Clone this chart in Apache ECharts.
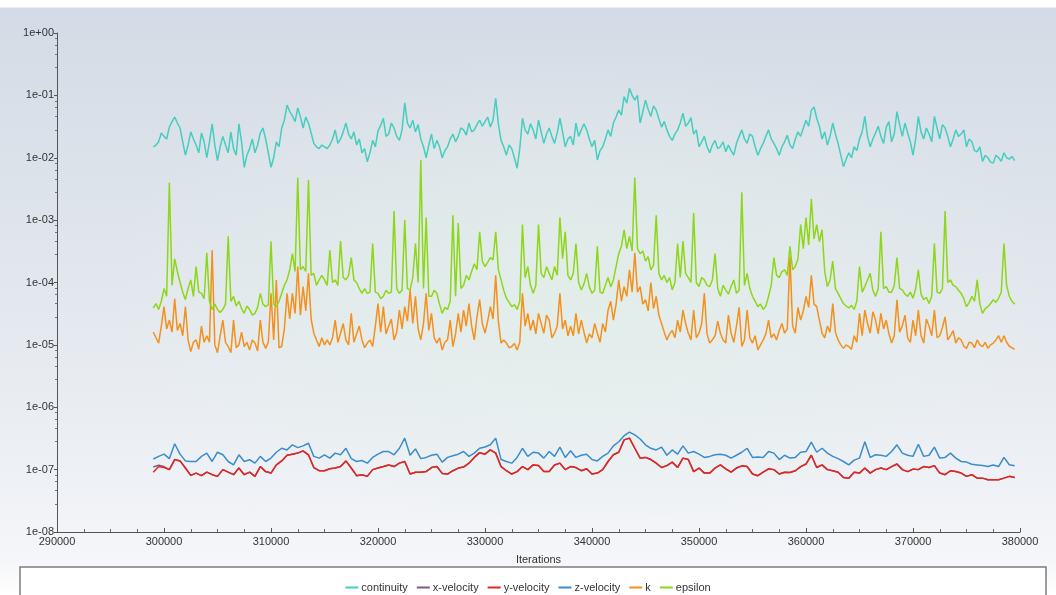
<!DOCTYPE html>
<html>
<head>
<meta charset="utf-8">
<title>Residuals</title>
<script src="https://cdn.jsdelivr.net/npm/echarts@6/dist/echarts.min.js"></script>
<style>
  html, body {
    margin: 0;
    padding: 0;
    width: 1056px;
    height: 595px;
    overflow: hidden;
  }
  body {
    background:
      radial-gradient(ellipse 45% 40% at 55% 48%, rgba(226, 240, 232, 0.7), rgba(226, 240, 232, 0) 100%),
      linear-gradient(to bottom, #ffffff 0px, #ffffff 7px, #d4dbe6 8px, #dae0e9 120px, #e3e8ee 300px, #eef1f5 480px, #f5f6f9 560px, #ffffff 595px);
  }
  #chart {
    width: 1056px;
    height: 595px;
  }
</style>
</head>
<body>
<div id="chart"></div>
<script>
// velocity residuals are read every 500 iterations, the noisier ones every 250
const coarseIterations = Array.from({ length: 162 }, (_, i) => 299000 + i * 500);
const fineIterations = Array.from({ length: 323 }, (_, i) => 299000 + i * 250);

const seriesNames = ['continuity', 'x-velocity', 'y-velocity', 'z-velocity', 'k', 'epsilon'];
const seriesColors = ['#45cdbf', '#7e5a80', '#e6261c', '#3a8ccb', '#f4901c', '#8ed61a'];

const continuity = [
  1.5e-2, 1.6e-2, 1.8e-2, 2.5e-2, 2.2e-2, 2.0e-2, 3.1e-2, 3.8e-2, 4.5e-2, 3.6e-2,
  3.0e-2, 1.8e-2, 1.1e-2, 1.6e-2, 2.6e-2, 2.0e-2, 1.6e-2, 1.2e-2, 2.5e-2, 1.8e-2,
  1.0e-2, 1.8e-2, 3.5e-2, 1.6e-2, 9e-3, 1.5e-2, 2.2e-2, 1.6e-2, 1.2e-2, 2.6e-2,
  1.4e-2, 1.1e-2, 3.5e-2, 1.8e-2, 7e-3, 1.1e-2, 1.4e-2, 2.0e-2, 1.2e-2, 1.6e-2,
  2.5e-2, 3.0e-2, 2.0e-2, 1.2e-2, 7e-3, 1.0e-2, 1.8e-2, 1.5e-2, 3.0e-2, 4.0e-2,
  7e-2, 5.5e-2, 4.7e-2, 3.8e-2, 6.3e-2, 4.5e-2, 3.0e-2, 4.5e-2, 3.6e-2, 2.5e-2,
  1.7e-2, 1.5e-2, 1.4e-2, 1.6e-2, 1.5e-2, 1.4e-2, 1.6e-2, 2.0e-2, 2.8e-2, 1.7e-2,
  2.0e-2, 2.6e-2, 3.6e-2, 2.4e-2, 2.0e-2, 2.6e-2, 1.6e-2, 2.0e-2, 1.2e-2, 1.4e-2,
  8.6e-3, 1.2e-2, 1.9e-2, 1.5e-2, 2.7e-2, 3.3e-2, 4.3e-2, 2.2e-2, 2.4e-2, 3.6e-2,
  3.0e-2, 2.2e-2, 1.9e-2, 2.8e-2, 7.6e-2, 3.6e-2, 3.0e-2, 4.0e-2, 2.6e-2, 3.4e-2,
  2.0e-2, 1.5e-2, 1.0e-2, 1.6e-2, 2.4e-2, 1.4e-2, 1.9e-2, 1.5e-2, 1.0e-2, 1.3e-2,
  1.5e-2, 2.0e-2, 2.4e-2, 1.8e-2, 2.2e-2, 3.0e-2, 2.8e-2, 2.3e-2, 3.6e-2, 2.6e-2,
  2.8e-2, 3.4e-2, 4.0e-2, 3.2e-2, 3.8e-2, 4.5e-2, 3.1e-2, 4.0e-2, 9.0e-2, 3.5e-2,
  1.9e-2, 1.5e-2, 1.1e-2, 1.6e-2, 1.4e-2, 1.0e-2, 6.8e-3, 1.4e-2, 4.3e-2, 2.8e-2,
  2.4e-2, 3.5e-2, 2.8e-2, 2.0e-2, 4.0e-2, 2.6e-2, 1.7e-2, 2.4e-2, 3.0e-2, 2.2e-2,
  1.7e-2, 2.5e-2, 4.3e-2, 2.6e-2, 1.5e-2, 2.0e-2, 2.2e-2, 1.6e-2, 3.6e-2, 2.2e-2,
  2.8e-2, 3.5e-2, 2.8e-2, 2.0e-2, 1.5e-2, 1.9e-2, 9.2e-3, 1.3e-2, 1.5e-2, 2.0e-2,
  2.8e-2, 2.2e-2, 3.6e-2, 4.5e-2, 5.8e-2, 4.8e-2, 9.6e-2, 7.5e-2, 1.3e-1, 1.0e-1,
  8.4e-2, 1.0e-1, 3.6e-2, 5.5e-2, 8.4e-2, 6.0e-2, 4.6e-2, 6.8e-2, 5.8e-2, 4.2e-2,
  3.1e-2, 3.8e-2, 2.8e-2, 2.2e-2, 1.9e-2, 2.4e-2, 2.8e-2, 3.6e-2, 5.2e-2, 3.2e-2,
  3.6e-2, 4.4e-2, 2.4e-2, 2.8e-2, 1.5e-2, 1.8e-2, 2.2e-2, 1.5e-2, 1.2e-2, 1.6e-2,
  1.9e-2, 1.4e-2, 1.5e-2, 1.8e-2, 1.25e-2, 1.6e-2, 1.3e-2, 1.1e-2, 1.7e-2, 2.2e-2,
  2.8e-2, 2.0e-2, 1.7e-2, 2.4e-2, 2.2e-2, 1.5e-2, 1.1e-2, 1.4e-2, 1.7e-2, 2.2e-2,
  2.8e-2, 2.0e-2, 1.7e-2, 1.4e-2, 1.1e-2, 1.5e-2, 1.8e-2, 2.3e-2, 1.6e-2, 1.4e-2,
  2.0e-2, 2.6e-2, 2.2e-2, 3.0e-2, 4.0e-2, 3.2e-2, 5.8e-2, 6.5e-2, 4.3e-2, 3.2e-2,
  2.0e-2, 2.6e-2, 1.6e-2, 2.2e-2, 3.6e-2, 2.4e-2, 1.7e-2, 1.1e-2, 7.2e-3, 9.5e-3,
  1.2e-2, 1.0e-2, 1.5e-2, 1.3e-2, 2.0e-2, 2.6e-2, 4.6e-2, 2.2e-2, 1.5e-2, 2.0e-2,
  2.5e-2, 3.2e-2, 2.2e-2, 1.7e-2, 3.1e-2, 3.8e-2, 1.8e-2, 2.4e-2, 5.5e-2, 3.4e-2,
  2.2e-2, 3.6e-2, 2.5e-2, 1.8e-2, 1.1e-2, 2.0e-2, 4.6e-2, 2.6e-2, 2.0e-2, 3.0e-2,
  2.4e-2, 1.8e-2, 4.6e-2, 3.0e-2, 2.0e-2, 3.4e-2, 3.0e-2, 2.2e-2, 1.5e-2, 2.0e-2,
  2.8e-2, 2.2e-2, 2.4e-2, 2.8e-2, 1.5e-2, 2.0e-2, 1.8e-2, 1.3e-2, 1.25e-2, 1.5e-2,
  8.7e-3, 1.1e-2, 1.0e-2, 8.5e-3, 8.2e-3, 1.1e-2, 1.0e-2, 8.8e-3, 1.2e-2, 1.0e-2,
  9.5e-3, 1.05e-2, 9.0e-3
];

const xVelocity = [
  1.1e-7, 1.18e-7, 1.12e-7, 1e-7, 1.45e-7, 1.38e-7, 1.06e-7, 8.1e-8, 8.8e-8, 8e-8,
  9.1e-8, 8.3e-8, 7.8e-8, 1e-7, 9.1e-8, 8.3e-8, 1.06e-7, 8.3e-8, 9.1e-8, 7.8e-8,
  1.12e-7, 9.3e-8, 8.8e-8, 1.19e-7, 1.38e-7, 1.7e-7, 1.77e-7, 1.84e-7, 2.0e-7, 1.73e-7,
  1.08e-7, 9.6e-8, 9.6e-8, 1.03e-7, 1.06e-7, 1.12e-7, 1.38e-7, 1.06e-7, 8e-8, 8.3e-8,
  7.8e-8, 1e-7, 1.06e-7, 1.12e-7, 1.19e-7, 1.12e-7, 1.27e-7, 1.35e-7, 8.5e-8, 9.1e-8,
  9.1e-8, 9.3e-8, 1.08e-7, 1.12e-7, 8.7e-8, 8.5e-8, 9.6e-8, 1.06e-7, 1.1e-7, 1.27e-7,
  1.57e-7, 1.87e-7, 1.77e-7, 2.07e-7, 1.84e-7, 1.12e-7, 9.6e-8, 8.5e-8, 9.3e-8, 1.12e-7,
  1e-7, 1.19e-7, 1.16e-7, 9.3e-8, 9.3e-8, 1.19e-7, 1.27e-7, 1e-7, 1.12e-7, 1.08e-7,
  9.6e-8, 1.03e-7, 8.5e-8, 8.8e-8, 1e-7, 1.35e-7, 1.73e-7, 1.9e-7, 3e-7, 3.2e-7,
  2.2e-7, 1.53e-7, 1.57e-7, 1.45e-7, 1.27e-7, 1.08e-7, 1.16e-7, 1.32e-7, 1.08e-7, 1.53e-7,
  1.45e-7, 9.3e-8, 1.06e-7, 8.8e-8, 8.8e-8, 1.06e-7, 1.19e-7, 1.03e-7, 9.1e-8, 1.06e-7,
  1.15e-7, 1.12e-7, 8.5e-8, 8e-8, 9.1e-8, 1.03e-7, 1e-7, 8.5e-8, 9.1e-8, 9e-8,
  9.6e-8, 1.12e-7, 1.23e-7, 1.7e-7, 1.08e-7, 1.19e-7, 1e-7, 9.6e-8, 9.1e-8, 7.5e-8,
  7.3e-8, 9.1e-8, 8.8e-8, 1.06e-7, 8.8e-8, 1e-7, 1.06e-7, 1e-7, 1.12e-7, 1.23e-7,
  1e-7, 9.3e-8, 1.02e-7, 1e-7, 1.12e-7, 1.08e-7, 1.16e-7, 8.8e-8, 8.3e-8, 9.6e-8,
  9.3e-8, 8.8e-8, 7.8e-8, 8.3e-8, 7.3e-8, 7.3e-8, 6.9e-8, 6.9e-8, 6.9e-8, 7.3e-8,
  7.8e-8, 7.5e-8
];

const yVelocity = [
  9.1e-8, 1.12e-7, 1.08e-7, 1e-7, 1.45e-7, 1.38e-7, 1.06e-7, 8.1e-8, 8.8e-8, 8e-8,
  9.1e-8, 8.3e-8, 7.8e-8, 1e-7, 9.1e-8, 8.3e-8, 1.06e-7, 8.3e-8, 9.1e-8, 7.8e-8,
  1.12e-7, 9.3e-8, 8.8e-8, 1.19e-7, 1.38e-7, 1.7e-7, 1.77e-7, 1.84e-7, 2.0e-7, 1.73e-7,
  1.08e-7, 9.6e-8, 9.6e-8, 1.03e-7, 1.06e-7, 1.12e-7, 1.38e-7, 1.06e-7, 8e-8, 8.3e-8,
  7.8e-8, 1e-7, 1.06e-7, 1.12e-7, 1.19e-7, 1.12e-7, 1.27e-7, 1.35e-7, 8.5e-8, 9.1e-8,
  9.1e-8, 9.3e-8, 1.08e-7, 1.12e-7, 8.7e-8, 8.5e-8, 9.6e-8, 1.06e-7, 1.1e-7, 1.27e-7,
  1.57e-7, 1.87e-7, 1.77e-7, 2.07e-7, 1.84e-7, 1.12e-7, 9.6e-8, 8.5e-8, 9.3e-8, 1.12e-7,
  1e-7, 1.19e-7, 1.16e-7, 9.3e-8, 9.3e-8, 1.19e-7, 1.27e-7, 1e-7, 1.12e-7, 1.08e-7,
  9.6e-8, 1.03e-7, 8.5e-8, 8.8e-8, 1e-7, 1.35e-7, 1.73e-7, 1.9e-7, 3e-7, 3.2e-7,
  2.2e-7, 1.53e-7, 1.57e-7, 1.45e-7, 1.27e-7, 1.08e-7, 1.16e-7, 1.32e-7, 1.08e-7, 1.53e-7,
  1.45e-7, 9.3e-8, 1.06e-7, 8.8e-8, 8.8e-8, 1.06e-7, 1.19e-7, 1.03e-7, 9.1e-8, 1.06e-7,
  1.15e-7, 1.12e-7, 8.5e-8, 8e-8, 9.1e-8, 1.03e-7, 1e-7, 8.5e-8, 9.1e-8, 9e-8,
  9.6e-8, 1.12e-7, 1.23e-7, 1.7e-7, 1.08e-7, 1.19e-7, 1e-7, 9.6e-8, 9.1e-8, 7.5e-8,
  7.3e-8, 9.1e-8, 8.8e-8, 1.06e-7, 8.8e-8, 1e-7, 1.06e-7, 1e-7, 1.12e-7, 1.23e-7,
  1e-7, 9.3e-8, 1.02e-7, 1e-7, 1.12e-7, 1.08e-7, 1.16e-7, 8.8e-8, 8.3e-8, 9.6e-8,
  9.3e-8, 8.8e-8, 7.8e-8, 8.3e-8, 7.3e-8, 7.3e-8, 6.9e-8, 6.9e-8, 6.9e-8, 7.3e-8,
  7.8e-8, 7.5e-8
];

const zVelocity = [
  1.48e-7, 1.63e-7, 1.77e-7, 1.5e-7, 2.6e-7, 1.77e-7, 1.38e-7, 1.35e-7, 1.35e-7, 1.63e-7,
  1.84e-7, 1.35e-7, 1.9e-7, 1.73e-7, 1.35e-7, 1.19e-7, 1.73e-7, 1.35e-7, 1.44e-7, 1.27e-7,
  1.63e-7, 1.35e-7, 1.53e-7, 1.9e-7, 2.2e-7, 2.07e-7, 2.5e-7, 2.25e-7, 2.4e-7, 2.65e-7,
  1.63e-7, 1.53e-7, 1.73e-7, 1.53e-7, 1.84e-7, 1.73e-7, 2.2e-7, 1.5e-7, 1.35e-7, 1.4e-7,
  1.27e-7, 1.57e-7, 1.77e-7, 1.95e-7, 1.95e-7, 1.73e-7, 2.2e-7, 3.2e-7, 1.7e-7, 2.15e-7,
  1.5e-7, 1.57e-7, 1.7e-7, 1.77e-7, 1.32e-7, 1.57e-7, 1.67e-7, 1.77e-7, 1.95e-7, 1.63e-7,
  1.84e-7, 2.2e-7, 2.3e-7, 2.5e-7, 3.2e-7, 1.45e-7, 1.35e-7, 1.27e-7, 1.57e-7, 2.2e-7,
  1.63e-7, 1.9e-7, 1.84e-7, 1.53e-7, 1.95e-7, 1.63e-7, 2.3e-7, 1.57e-7, 2.0e-7, 1.57e-7,
  1.7e-7, 1.77e-7, 1.45e-7, 1.38e-7, 1.63e-7, 1.84e-7, 2.4e-7, 2.8e-7, 3.5e-7, 4.0e-7,
  3.6e-7, 3.1e-7, 2.5e-7, 2.2e-7, 2.07e-7, 2.3e-7, 1.7e-7, 2.07e-7, 1.77e-7, 2.4e-7,
  1.84e-7, 1.95e-7, 1.77e-7, 1.57e-7, 1.63e-7, 1.73e-7, 1.77e-7, 1.7e-7, 1.53e-7, 1.7e-7,
  1.9e-7, 2.2e-7, 1.57e-7, 1.6e-7, 1.57e-7, 1.95e-7, 1.84e-7, 1.45e-7, 1.7e-7, 1.53e-7,
  1.57e-7, 1.9e-7, 1.95e-7, 2.75e-7, 1.9e-7, 2.2e-7, 1.84e-7, 1.63e-7, 1.5e-7, 1.35e-7,
  1.19e-7, 1.42e-7, 1.53e-7, 2.8e-7, 1.57e-7, 1.73e-7, 1.7e-7, 1.63e-7, 1.95e-7, 2.5e-7,
  1.84e-7, 1.7e-7, 1.63e-7, 2.55e-7, 1.63e-7, 1.7e-7, 2.3e-7, 1.53e-7, 1.57e-7, 1.84e-7,
  1.53e-7, 1.35e-7, 1.32e-7, 1.22e-7, 1.19e-7, 1.16e-7, 1.12e-7, 1.19e-7, 1.12e-7, 1.57e-7,
  1.2e-7, 1.15e-7
];

const kValues = [
  1.6e-5, 1.3e-5, 1.07e-5, 2e-5, 4.1e-5, 1.8e-5, 2.5e-5, 1.6e-5, 5.5e-5, 1.7e-5,
  2.2e-5, 1.4e-5, 4.1e-5, 1.2e-5, 7.8e-6, 1.1e-5, 1.2e-5, 8.5e-6, 2.0e-5, 1.1e-5,
  1.4e-5, 1.1e-5, 3.3e-4, 1e-5, 7.5e-6, 1.4e-5, 2.5e-5, 1.1e-5, 9.4e-6, 7.5e-6,
  2.5e-5, 9e-6, 1e-5, 1.6e-5, 9.4e-6, 1.1e-5, 8.3e-6, 1.2e-5, 1.07e-5, 8e-6,
  2.5e-5, 1.1e-5, 8.8e-6, 1.1e-5, 6.7e-5, 1.2e-5, 1.1e-4, 9e-6, 9.4e-6, 1.8e-5,
  6.7e-5, 2.6e-5, 6.7e-5, 3.2e-5, 1.8e-4, 3e-5, 8.6e-5, 3.5e-5, 1.4e-4, 2.6e-5,
  1.54e-5, 1.2e-5, 9.4e-6, 1.3e-5, 1e-5, 1.2e-5, 1e-5, 1.3e-5, 2.5e-5, 1.1e-5,
  1.54e-5, 2.2e-5, 1.2e-5, 1e-5, 3.2e-5, 1.1e-5, 1.5e-5, 2e-5, 1.2e-5, 9e-6,
  1.07e-5, 1.2e-5, 9.4e-6, 2e-5, 4.6e-5, 1.6e-5, 4.1e-5, 1.5e-5, 2e-5, 2.6e-5,
  1.2e-5, 1.6e-5, 3.6e-5, 1.8e-5, 4.1e-5, 2.4e-5, 7.6e-5, 2.2e-5, 6e-5, 1.8e-5,
  1.2e-5, 2.2e-5, 6.7e-5, 1.7e-5, 3.2e-5, 1.3e-5, 1.07e-5, 1.3e-5, 8.3e-6, 1.1e-5,
  1.2e-5, 2.5e-5, 9.4e-6, 1.5e-5, 3.2e-5, 1.6e-5, 3.6e-5, 2e-5, 4.6e-5, 2e-5,
  1.2e-5, 2.8e-5, 5.3e-5, 2.2e-5, 1.54e-5, 2.4e-5, 4.1e-5, 2.6e-5, 1.3e-4, 2.4e-5,
  1.07e-5, 1.2e-5, 1.07e-5, 9e-6, 9.4e-6, 1.05e-5, 8.3e-6, 1.1e-5, 6.7e-5, 2e-5,
  3.2e-5, 1.7e-5, 2.5e-5, 1.5e-5, 3.2e-5, 2.2e-5, 1.54e-5, 3e-5, 2.5e-5, 1.3e-5,
  1.54e-5, 2e-5, 6.7e-5, 1.8e-5, 2.5e-5, 1.4e-5, 2e-5, 1.4e-5, 3.2e-5, 1.5e-5,
  2.5e-5, 1.6e-5, 1.07e-5, 1.5e-5, 1.3e-5, 2.2e-5, 1.54e-5, 1.1e-5, 2.2e-5, 1.6e-5,
  3.6e-5, 5e-5, 2.5e-5, 4.5e-5, 1.1e-4, 5e-5, 8.6e-5, 6e-5, 1.6e-4, 7e-5,
  3e-4, 7e-5, 8.6e-5, 4.5e-5, 5.3e-5, 3.5e-5, 1e-4, 3.8e-5, 6e-5, 3e-5,
  2.2e-5, 1.6e-5, 1.2e-5, 1.5e-5, 1.7e-5, 1.3e-5, 2.5e-5, 1.6e-5, 3.6e-5, 2.2e-5,
  1.54e-5, 1.2e-5, 3.6e-5, 1.3e-5, 1.54e-5, 2.2e-5, 6.7e-5, 1.5e-5, 1.07e-5, 1.2e-5,
  1.4e-5, 2.4e-5, 1.54e-5, 1.2e-5, 1.07e-5, 3e-5, 1.54e-5, 1.1e-5, 2e-5, 4e-5,
  9.4e-6, 1.2e-5, 3.6e-5, 1.3e-5, 1.07e-5, 1.4e-5, 8.3e-6, 1e-5, 1.2e-5, 1.5e-5,
  2.5e-5, 1.3e-5, 1.5e-5, 1.2e-5, 1.7e-5, 2.2e-5, 1.54e-5, 1.8e-5, 2.6e-4, 2e-5,
  1.54e-5, 4e-5, 2.5e-5, 3.5e-5, 6e-5, 4e-5, 1.3e-4, 4.5e-5, 4.1e-5, 2.5e-5,
  1.54e-5, 1.3e-5, 2e-5, 1.6e-5, 4.6e-5, 1.6e-5, 1.2e-5, 1e-5, 8.8e-6, 1e-5,
  9.4e-6, 8.5e-6, 1.4e-5, 1.1e-5, 3.2e-5, 1.4e-5, 3.6e-5, 2.2e-5, 1.54e-5, 3.4e-5,
  2.5e-5, 1.5e-5, 3.2e-5, 1.8e-5, 2.5e-5, 1.5e-5, 1.07e-5, 1.4e-5, 5.3e-5, 1.6e-5,
  2e-5, 3e-5, 1.3e-5, 1.1e-5, 2.5e-5, 1.4e-5, 3.6e-5, 1.4e-5, 1.07e-5, 2.6e-5,
  2e-5, 1.4e-5, 3.6e-5, 1.3e-5, 1.4e-5, 1.9e-5, 2.8e-5, 1.2e-5, 1.4e-5, 1.7e-5,
  1.07e-5, 1.3e-5, 1.2e-5, 9.5e-6, 8.8e-6, 1.1e-5, 1.07e-5, 9e-6, 1.2e-5, 1e-5,
  9.4e-6, 1.1e-5, 8.8e-6, 1e-5, 1.07e-5, 1.2e-5, 1.4e-5, 1.1e-5, 1.4e-5, 1.1e-5,
  9.5e-6, 9e-6, 8.5e-6
];

const epsilon = [
  3.9e-5, 4.6e-5, 3.7e-5, 5e-5, 8e-5, 6e-5, 4e-3, 9e-5, 2.4e-4, 1.5e-4,
  1e-4, 7e-5, 5.3e-5, 8e-5, 1.1e-4, 6e-5, 1.8e-4, 7e-5, 6.7e-5, 5.5e-5,
  3e-4, 5e-5, 3.7e-5, 4.5e-5, 3.7e-5, 3.3e-5, 3.7e-5, 4.5e-5, 5.5e-4, 5e-5,
  6e-5, 4.2e-5, 5e-5, 3.8e-5, 3.2e-5, 4.2e-5, 3.7e-5, 3e-5, 3.2e-5, 4e-5,
  6.7e-5, 4.5e-5, 4.1e-5, 4.4e-5, 4.6e-4, 4.5e-5, 4.1e-5, 5e-5, 6.7e-5, 9e-5,
  1.1e-4, 1.6e-4, 2.9e-4, 1.5e-4, 4.8e-3, 1.6e-4, 1.8e-4, 1.5e-4, 4.4e-3, 1.3e-4,
  1.4e-4, 9e-5, 1.1e-4, 1.3e-4, 1.1e-4, 9e-5, 3.3e-4, 1e-4, 1.1e-4, 9e-5,
  4.6e-4, 1.2e-4, 1.1e-4, 1.3e-4, 2.5e-4, 1.1e-4, 1e-4, 8e-5, 6.7e-5, 8e-5,
  6.7e-5, 7e-5, 4.2e-4, 7e-5, 6.7e-5, 5.5e-5, 6e-5, 7.5e-5, 6.7e-5, 7e-5,
  1.4e-3, 8e-5, 6.7e-5, 7.5e-5, 1e-3, 8e-5, 7.6e-5, 1.2e-4, 4.2e-4, 1e-4,
  9.2e-3, 8e-5, 1.1e-3, 6e-5, 6e-5, 7.5e-5, 6.7e-5, 4.5e-5, 3.2e-5, 4e-5,
  3.7e-5, 5e-5, 1.2e-3, 6e-5, 9e-4, 8e-5, 9e-5, 1.3e-4, 1.1e-4, 1.5e-4,
  2e-4, 1.6e-4, 6.5e-4, 2.2e-4, 1.8e-4, 2.1e-4, 2.5e-4, 2.3e-4, 6.5e-4, 1.6e-4,
  1.1e-4, 7.5e-5, 5.6e-5, 4.8e-5, 4.1e-5, 4.4e-5, 3.7e-5, 5e-5, 8.5e-4, 1.2e-4,
  1.8e-4, 9e-5, 6.7e-5, 9e-5, 8.5e-4, 1.4e-4, 1.2e-4, 1.8e-4, 1.4e-4, 1.1e-4,
  1.8e-4, 1.3e-4, 1.1e-3, 2.4e-4, 6.5e-4, 1.3e-4, 1.1e-4, 1.4e-4, 4.2e-4, 1e-4,
  7.6e-5, 9.5e-5, 1.4e-4, 8.5e-5, 6.7e-5, 7.5e-5, 3.8e-4, 7e-5, 6.7e-5, 9e-5,
  1.2e-4, 8.5e-5, 1.1e-4, 1.8e-4, 2.9e-4, 3.8e-4, 7e-4, 3.5e-4, 5.5e-4, 3.2e-4,
  4.8e-3, 3.5e-4, 2.9e-4, 3.2e-4, 2.2e-4, 2.6e-4, 1.6e-4, 1.9e-4, 1.2e-3, 1.4e-4,
  1.1e-4, 1.3e-4, 1e-4, 1.2e-4, 7.6e-5, 1e-4, 4.2e-4, 1.2e-4, 4.6e-4, 1.4e-4,
  1.2e-4, 1e-4, 1.3e-3, 1e-4, 8.6e-5, 1.2e-4, 1.1e-4, 9e-5, 8.6e-5, 1.1e-4,
  2.9e-4, 8e-5, 6e-5, 9e-5, 7.6e-5, 6.5e-5, 8.6e-5, 1.1e-4, 6.7e-5, 7.5e-5,
  2.8e-3, 9e-5, 1.4e-4, 8e-5, 6e-5, 5e-5, 4.1e-5, 4.5e-5, 3.7e-5, 4.2e-5,
  6e-5, 9e-5, 2.5e-4, 1.3e-4, 1.2e-4, 1.5e-4, 1.6e-4, 1.3e-4, 3.8e-4, 1.6e-4,
  1.8e-4, 2.4e-4, 8.5e-4, 3.5e-4, 1.1e-3, 4e-4, 2.2e-3, 5e-4, 8.5e-4, 4.5e-4,
  7e-4, 1.5e-4, 8.6e-5, 1.1e-4, 2.2e-4, 8e-5, 6.7e-5, 5.5e-5, 4.6e-5, 4.2e-5,
  3.9e-5, 4.3e-5, 3.7e-5, 5e-5, 1.8e-4, 7e-5, 8.6e-5, 1.1e-4, 1.4e-4, 7.5e-5,
  6e-5, 8e-5, 6.5e-4, 8e-5, 8.6e-5, 7e-5, 7e-5, 9e-5, 2.5e-4, 8e-5,
  7.6e-5, 6.5e-5, 6e-5, 7e-5, 5.6e-5, 8e-5, 1.6e-4, 6.5e-5, 5.3e-5, 5.8e-5,
  4.6e-5, 6e-5, 4.2e-4, 7e-5, 6.7e-5, 8e-5, 1.4e-3, 1e-4, 1.1e-4, 9e-5,
  8.6e-5, 7.5e-5, 6.7e-5, 5.5e-5, 4.1e-5, 4.8e-5, 6e-5, 5e-5, 1.1e-4, 4.5e-5,
  3.2e-5, 3.8e-5, 4.1e-5, 4.6e-5, 5.3e-5, 4.8e-5, 5.6e-5, 7e-5, 4.2e-4, 9e-5,
  6e-5, 5e-5, 4.5e-5
];

const seriesData = [continuity, xVelocity, yVelocity, zVelocity, kValues, epsilon];
const seriesIterations = [fineIterations, coarseIterations, coarseIterations, coarseIterations, fineIterations, fineIterations];

const chart = echarts.init(document.getElementById('chart'));

const axisFont = 'Liberation Sans, Arial, sans-serif';

function expLabel(v) {
  const e = Math.round(Math.log10(v));
  const sign = e < 0 ? '-' : '+';
  return '1e' + sign + String(Math.abs(e)).padStart(2, '0');
}

const option = {
  backgroundColor: 'transparent',
  animation: false,
  textStyle: { fontFamily: axisFont },
  grid: {
    left: 57,
    right: 36,
    top: 33,
    bottom: 63
  },
  legend: {
    data: seriesNames,
    left: 'center',
    top: 577,
    icon: 'rect',
    itemWidth: 13,
    itemHeight: 2,
    itemGap: 9,
    z: 10,
    textStyle: { color: '#333', fontSize: 11, fontFamily: axisFont, padding: [0, 0, 0, -2] }
  },
  graphic: [
    {
      type: 'rect',
      z: 1,
      shape: { x: 20, y: 567, width: 1026, height: 40 },
      style: { fill: '#ffffff', stroke: '#7c7c7c', lineWidth: 1.5 }
    }
  ],
  xAxis: {
    type: 'value',
    min: 290000,
    max: 380000,
    interval: 10000,
    name: 'Iterations',
    nameLocation: 'middle',
    nameGap: 22,
    nameTextStyle: { color: '#333', fontSize: 11 },
    axisLine: { show: true, lineStyle: { color: '#555', width: 1 } },
    axisTick: { show: true, inside: true, length: 4, lineStyle: { color: '#555' } },
    minorTick: { show: true, splitNumber: 4, length: 3, lineStyle: { color: '#666' } },
    axisLabel: { color: '#333', fontSize: 11, margin: 4, formatter: v => String(v) },
    splitLine: { show: false }
  },
  yAxis: {
    type: 'log',
    logBase: 10,
    min: 1e-8,
    max: 1,
    splitNumber: 8,
    axisLine: { show: true, lineStyle: { color: '#555', width: 1 } },
    axisTick: { show: true, inside: false, length: 3, lineStyle: { color: '#555' } },
    minorTick: { show: true, splitNumber: 5, length: 2, lineStyle: { color: '#777' } },
    axisLabel: { color: '#333', fontSize: 11, margin: 3, formatter: expLabel },
    splitLine: { show: false }
  },
  series: seriesNames.map((name, i) => ({
    name: name,
    type: 'line',
    data: seriesIterations[i].map((it, j) => [it, seriesData[i][j]]),
    showSymbol: false,
    symbol: 'none',
    lineStyle: { width: 1.5, color: seriesColors[i] },
    itemStyle: { color: seriesColors[i] }
  }))
};

chart.setOption(option);
</script>
</body>
</html>
